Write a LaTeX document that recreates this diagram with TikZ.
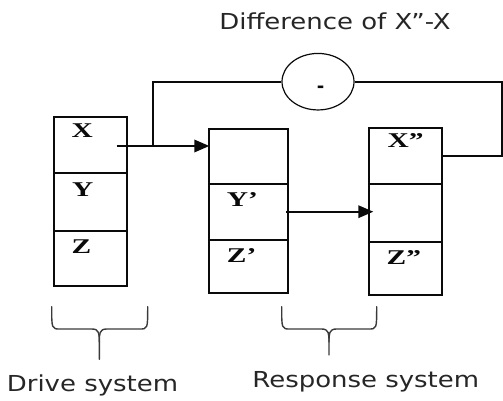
\documentclass[tikz,border=0pt]{standalone}
\usepackage{fontspec}
\usepackage{graphicx}
\usetikzlibrary{arrows.meta,shapes.geometric}
\newfontfamily\capfont{DejaVu Sans}
\newfontfamily\varfont{Liberation Serif}
\newcommand{\captext}[1]{\scalebox{1.18}[1]{\capfont\fontsize{22}{26}\selectfont #1}}
\newcommand{\varlabel}[1]{\scalebox{1.4}[1]{\varfont\bfseries\fontsize{21}{25}\selectfont #1}}
\definecolor{ink}{HTML}{0A0A0A}
\definecolor{capink}{HTML}{262626}
\definecolor{braceink}{HTML}{3A3A3A}
\begin{document}
\begin{tikzpicture}[x=1pt,y=-1pt,
  cell/.style={draw=ink, line width=1.8pt, inner sep=0pt, outer sep=0pt},
  var/.style={inner sep=0pt, anchor=base west, text=ink},
  wire/.style={draw=ink, line width=1.8pt},
  tipline/.style={wire, -{Triangle[length=15pt,width=12.5pt]}},
  brace/.style={draw=braceink, line width=1.4pt, line cap=round},
  caption/.style={inner sep=0pt, text=capink}]
\useasboundingbox (0,0) rectangle (503,401);

% drive system cells
\node[cell, minimum width=72.7pt, minimum height=55.4pt] (d1) at (90.35,145) {};
\node[cell, minimum width=72.7pt, minimum height=58pt] (d2) at (90.35,201.7) {};
\node[cell, minimum width=72.7pt, minimum height=55.3pt] (d3) at (90.35,258.35) {};
% first response cells
\node[cell, minimum width=79pt, minimum height=55.6pt] (r1) at (248.8,156.5) {};
\node[cell, minimum width=79pt, minimum height=55.7pt] (r2) at (248.8,212.15) {};
\node[cell, minimum width=79pt, minimum height=53.3pt] (r3) at (248.8,266.65) {};
% second response cells
\node[cell, minimum width=72.4pt, minimum height=56pt] (s1) at (405.5,156.3) {};
\node[cell, minimum width=72.4pt, minimum height=57.4pt] (s2) at (405.5,213) {};
\node[cell, minimum width=72.4pt, minimum height=53.3pt] (s3) at (405.5,268.35) {};

% state variable labels
\node[var] (lx)  at (71.5,137) {\varlabel{X}};
\node[var] (ly)  at (72,196.7) {\varlabel{Y}};
\node[var] (lz)  at (71.5,253.5) {\varlabel{Z}};
\node[var] (ly1) at (226.7,206) {\varlabel{Y’}};
\node[var] (lz1) at (226.7,262) {\varlabel{Z’}};
\node[var] (lx2) at (387.5,147) {\varlabel{X”}};
\node[var] (lz2) at (386.5,264) {\varlabel{Z”}};

% difference block
\node[ellipse, draw=ink, line width=1.2pt, inner sep=0pt,
      minimum width=72pt, minimum height=56.5pt] (diff) at (318,81.7) {};
\node[inner sep=0pt, text=ink] (minus) at (320.5,89) {\capfont\bfseries\fontsize{18}{20}\selectfont -};
\node[caption] (title) at (335,21.7) {\captext{Difference of X”-X}};

% connectors
\coordinate (xout) at (116.7,146);
\coordinate (j) at (153.3,146);
\coordinate (yout) at (286,211.7);
\coordinate (rt) at (501.7,0);
\draw[tipline] (xout) -- (xout -| r1.west);
\draw[wire] (j) |- (diff.west);
\draw[tipline] (yout) -- ([xshift=4pt]yout -| s2.west);
\draw[wire] (s1.east) -- (s1.east -| rt) |- (diff.east);

% braces under the systems
\draw[brace] (51.7,306.7) .. controls (51.7,329) and (51.7,329) .. (60,329)
  -- (92,329) .. controls (99.3,329) and (99.3,334) .. (99.3,342) -- (99.3,359.3);
\draw[brace] (147.7,306.7) .. controls (147.7,329) and (147.7,329) .. (139.4,329)
  -- (106.6,329) .. controls (99.3,329) and (99.3,334) .. (99.3,342);
\draw[brace] (281.7,306.7) .. controls (281.7,329) and (281.7,329) .. (290,329)
  -- (321.7,329) .. controls (329,329) and (329,334) .. (329,342) -- (329,355);
\draw[brace] (376.7,306.7) .. controls (376.7,329) and (376.7,329) .. (368.4,329)
  -- (336.3,329) .. controls (329,329) and (329,334) .. (329,342);

\node[caption] (drive) at (92.5,385) {\captext{Drive system}};
\node[caption] (resp) at (365.8,381.7) {\captext{Response system}};
\end{tikzpicture}
\end{document}
